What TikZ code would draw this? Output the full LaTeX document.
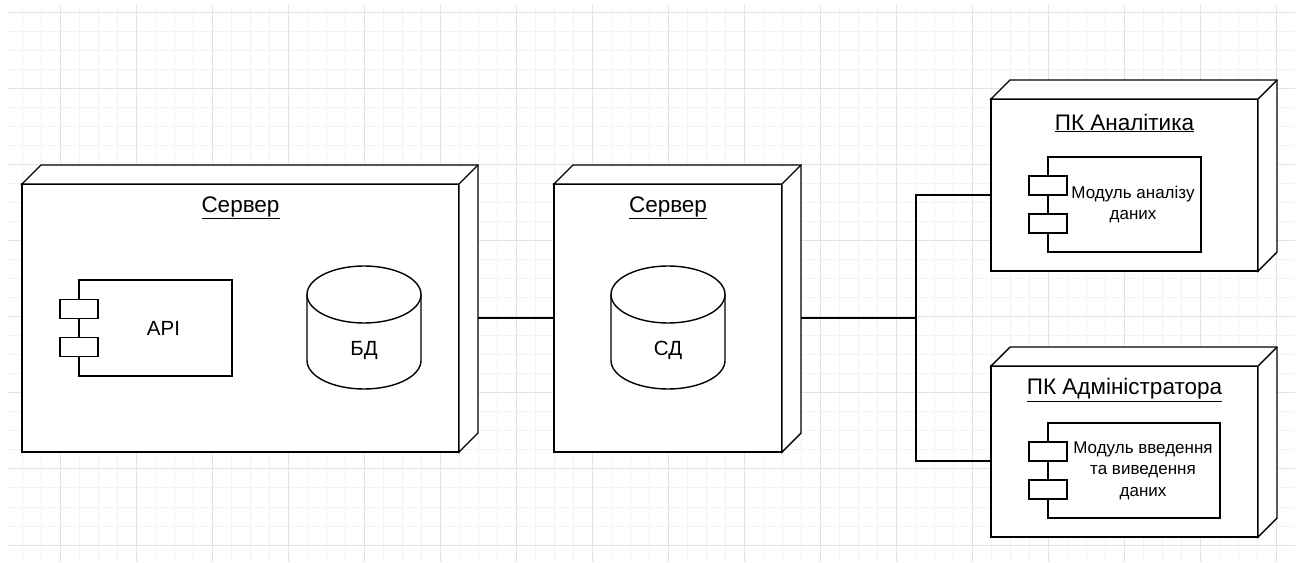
\documentclass[tikz,border=0pt]{standalone}
\usepackage{fontspec}
\setmainfont{Liberation Sans}
\usetikzlibrary{positioning}

\definecolor{gridminor}{HTML}{F3F3F3}
\definecolor{gridmajor}{HTML}{E3E3E3}

\tikzset{
  dbcyl/.pic={
    \draw[line width=1.4pt,fill=white] (-57,33) -- (-57,-33)
      arc[start angle=180,end angle=360,x radius=57,y radius=28.5] -- (57,33)
      arc[start angle=0,end angle=180,x radius=57,y radius=28.5] -- cycle;
    \draw[line width=1.4pt] (-57,33)
      arc[start angle=180,end angle=360,x radius=57,y radius=28.5];
  }
}

\begin{document}
\begin{tikzpicture}[x=1pt,y=1pt,line join=miter,
    devnode/.style={rectangle,draw,fill=white,line width=1.4pt,inner sep=0pt,outer sep=0pt},
    devtitle/.style={font=\fontsize{22.5}{26}\selectfont},
    comp/.style={rectangle,draw,fill=white,line width=1.4pt,inner sep=0pt,outer sep=0pt,
      minimum width=153pt,minimum height=95pt},
    port/.style={rectangle,draw,fill=white,line width=1.4pt,inner sep=0pt,
      minimum width=38pt,minimum height=19pt},
    bigtxt/.style={font=\fontsize{20.5}{24}\selectfont},
    smalltxt/.style={font=\fontsize{17}{21.5}\selectfont,align=center},
    link/.style={line width=1.4pt}]

  \useasboundingbox (0,0) rectangle (1300,562);
  \fill[white] (0,0) rectangle (1300,562);

  % background grid
  \begin{scope}
    \clip (8,0) rectangle (1295,557);
    \foreach \gx in {22,41,...,1295} \draw[gridminor,line width=1pt] (\gx,0) -- (\gx,557);
    \foreach \gy in {17,36,...,549} \draw[gridminor,line width=1pt] (8,\gy) -- (1295,\gy);
    \foreach \gx in {60,136,...,1276} \draw[gridmajor,line width=1pt] (\gx,0) -- (\gx,557);
    \foreach \gy in {17,93,...,549} \draw[gridmajor,line width=1pt] (8,\gy) -- (1295,\gy);
  \end{scope}

  % device nodes (front faces)
  \node[devnode,minimum width=437pt,minimum height=268pt] (srv1) at (240.5,244) {};
  \node[devnode,minimum width=228pt,minimum height=268pt] (srv2) at (668,244) {};
  \node[devnode,minimum width=267pt,minimum height=172pt] (pc1) at (1124.5,377) {};
  \node[devnode,minimum width=267pt,minimum height=171pt] (pc2) at (1124.5,110.5) {};

  % depth of the boxes
  \foreach \n in {srv1,srv2,pc1,pc2}{
    \draw[line width=1.4pt,fill=white] (\n.north west) -- ++(19,19)
      -- ([shift={(19,19)}]\n.north east) -- ([shift={(19,19)}]\n.south east)
      -- (\n.south east) -- (\n.north east) -- cycle;
    \draw[line width=1.4pt] (\n.north east) -- ++(19,19);
  }

  \node[devtitle] (srv1-t) at ([yshift=-24pt]srv1.north) {\underline{Сервер}};
  \node[devtitle] (srv2-t) at ([yshift=-24pt]srv2.north) {\underline{Сервер}};
  \node[devtitle] (pc1-t) at ([yshift=-24pt]pc1.north) {\underline{ПК Аналітика}};
  \node[devtitle] (pc2-t) at ([yshift=-24pt]pc2.north) {\underline{ПК Адміністратора}};

  % components
  \node[comp,minimum height=96pt] (api) at (155.5,234) {};
  \node[port] (api-p1) at ([yshift=-29pt]api.north west) {};
  \node[port] (api-p2) at ([yshift=-67pt]api.north west) {};
  \node[bigtxt] (api-txt) at ([xshift=8pt]api.center) {API};

  \node[comp] (anl) at (1124.5,357.5) {};
  \node[port] (anl-p1) at ([yshift=-28.5pt]anl.north west) {};
  \node[port] (anl-p2) at ([yshift=-66.5pt]anl.north west) {};
  \node[smalltxt] (anl-txt) at ([xshift=8.5pt]anl.center) {Модуль аналізу\\даних};

  \node[comp,minimum width=172pt] (io) at (1134,91.5) {};
  \node[port] (io-p1) at ([yshift=-28.5pt]io.north west) {};
  \node[port] (io-p2) at ([yshift=-66.5pt]io.north west) {};
  \node[smalltxt] (io-txt) at ([xshift=9pt]io.center) {Модуль введення\\та виведення\\даних};

  % storages
  \pic at (364,234.5) {dbcyl};
  \node[bigtxt] (db-txt) at (364,212) {БД};
  \pic at (668,234.5) {dbcyl};
  \node[bigtxt] (sd-txt) at (668,212) {СД};

  % links
  \coordinate (hub) at (916,244);
  \draw[link] ([xshift=19pt]srv1.east) -- (srv2.west);
  \draw[link] ([xshift=19pt]srv2.east) -- (hub);
  \draw[link] ([yshift=-10pt]pc1.west) -| (hub) |- ([yshift=-9.5pt]pc2.west);
\end{tikzpicture}
\end{document}
